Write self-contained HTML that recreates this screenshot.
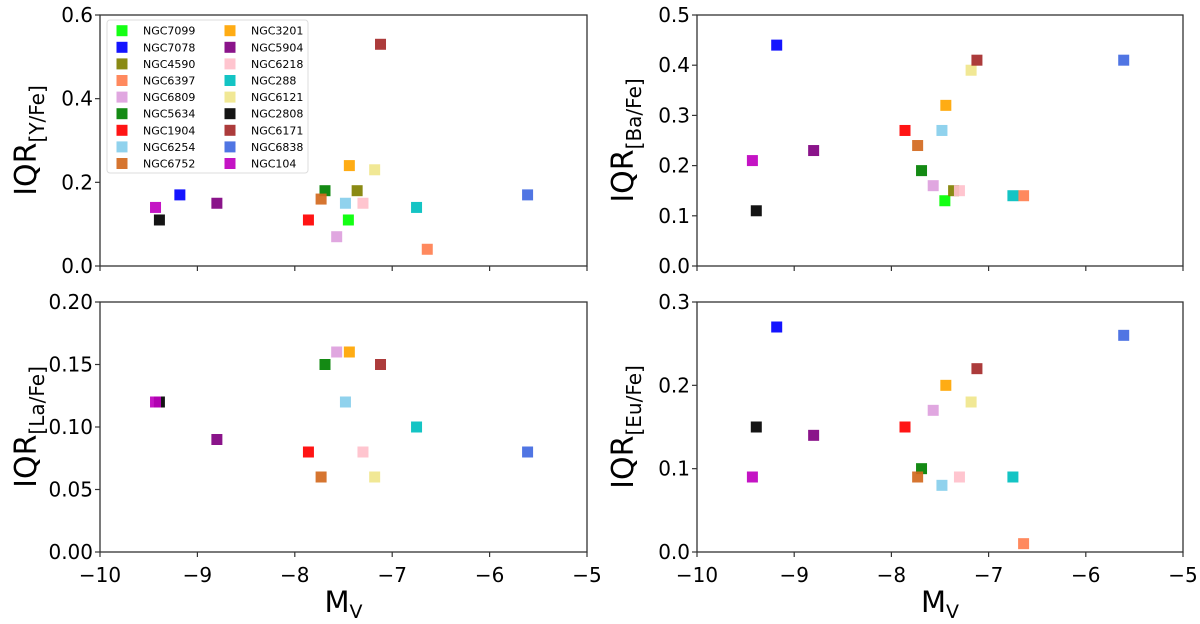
<!DOCTYPE html>
<html><head><meta charset="utf-8"><style>
body{margin:0;background:#fff;width:1200px;height:619px;overflow:hidden}
svg text{font-family:"DejaVu Sans","Liberation Sans",sans-serif;fill:#000}
</style></head><body>
<svg id="fig" width="1200" height="619" xmlns="http://www.w3.org/2000/svg"></svg>
<script>
const clusters=["NGC7099","NGC7078","NGC4590","NGC6397","NGC6809","NGC5634","NGC1904","NGC6254","NGC6752","NGC3201","NGC5904","NGC6218","NGC288","NGC6121","NGC2808","NGC6171","NGC6838","NGC104"];
const colors=["#00ff00","#0000ff","#808000","#ff7f50","#dda0dd","#008000","#ff0000","#87ceeb","#d2691e","#ffa500","#800080","#ffc0cb","#00bfbf","#f0e68c","#000000","#a52a2a","#4169e1","#bf00bf"];
const mv=[-7.45,-9.18,-7.36,-6.64,-7.57,-7.69,-7.86,-7.48,-7.73,-7.44,-8.80,-7.30,-6.75,-7.18,-9.39,-7.12,-5.61,-9.43];
const yFe=[0.11,0.17,0.18,0.04,0.07,0.18,0.11,0.15,0.16,0.24,0.15,0.15,0.14,0.23,0.11,0.53,0.17,0.14];
const baFe=[0.13,0.44,0.15,0.14,0.16,0.19,0.27,0.27,0.24,0.32,0.23,0.15,0.14,0.39,0.11,0.41,0.41,0.21];
const laFe=[null,null,null,null,0.16,0.15,0.08,0.12,0.06,0.16,0.09,0.08,0.10,0.06,0.12,0.15,0.08,0.12];
const euFe=[null,0.27,null,0.01,0.17,0.10,0.15,0.08,0.09,0.20,0.14,0.09,0.09,0.18,0.15,0.22,0.26,0.09];
const xTicks=[-10,-9,-8,-7,-6,-5];
const panels=[
 {name:"y-fe",el:"Y/Fe",vals:yFe,x0:100,x1:587,y0:15,y1:266,ymax:0.6,ticks:[0,0.2,0.4,0.6],dec:1,xl:false,legend:true},
 {name:"ba-fe",el:"Ba/Fe",vals:baFe,x0:697,x1:1183,y0:15,y1:266,ymax:0.5,ticks:[0,0.1,0.2,0.3,0.4,0.5],dec:1,xl:false},
 {name:"la-fe",el:"La/Fe",vals:laFe,x0:100,x1:587,y0:302,y1:552,ymax:0.2,ticks:[0,0.05,0.1,0.15,0.2],dec:2,xl:true},
 {name:"eu-fe",el:"Eu/Fe",vals:euFe,x0:697,x1:1183,y0:302,y1:552,ymax:0.3,ticks:[0,0.1,0.2,0.3],dec:1,xl:true}];
const NS="http://www.w3.org/2000/svg";
const svg=document.getElementById('fig');
function mk(t,a,p){const e=document.createElementNS(NS,t);for(const k in a)e.setAttribute(k,a[k]);(p||svg).appendChild(e);return e;}
panels.forEach(P=>{
 const g=mk('g',{});
 
 
 const sx=v=>P.x0+(v+10)/5*(P.x1-P.x0);
 const sy=v=>P.y1-v/P.ymax*(P.y1-P.y0);
 const box=mk('rect',{x:P.x0,y:P.y0,width:P.x1-P.x0,height:P.y1-P.y0,fill:'none',stroke:'#333','stroke-width':1.3},g);
 
 
 xTicks.forEach(t=>{
  mk('line',{x1:sx(t),x2:sx(t),y1:P.y1,y2:P.y1+5,stroke:'#333','stroke-width':1.2},g);
  if(P.xl){const tx=mk('text',{x:sx(t),y:P.y1+30,'font-size':20,'text-anchor':'middle'},g);tx.textContent=(t<0?'\u2212'+(-t):t);
   
   }
 });
 P.ticks.forEach(t=>{
  mk('line',{x1:P.x0-5,x2:P.x0,y1:sy(t),y2:sy(t),stroke:'#333','stroke-width':1.2},g);
  const tx=mk('text',{x:P.x0-7,y:sy(t)+7,'font-size':20,'text-anchor':'end'},g);tx.textContent=t.toFixed(P.dec);
  
  
 });
 const yl=mk('text',{transform:`translate(${P.x0-64},${(P.y0+P.y1)/2}) rotate(-90)`,'font-size':30,'text-anchor':'middle'},g);
 yl.innerHTML='IQR<tspan font-size="20" dy="8">['+P.el+']</tspan>';
 
 
 if(P.xl){const xl=mk('text',{x:(P.x0+P.x1)/2,y:P.y1+60,'font-size':29,'text-anchor':'middle'},g);
  xl.innerHTML='M<tspan font-size="19" dy="6">V</tspan>';
  
  }
 P.vals.forEach((v,i)=>{
  if(v===null)return;
  const r=mk('rect',{x:sx(mv[i])-5.5,y:sy(v)-5.5,width:11,height:11,fill:colors[i],'fill-opacity':0.92},g);
  
  
 });
 if(P.legend){
  const lg=mk('g',{},g);
  
  
  mk('rect',{x:107,y:20,width:201,height:153,rx:3,fill:'#fff','fill-opacity':0.85,stroke:'#ddd'},lg);
  clusters.forEach((c,i)=>{
   const col=i<9?0:1,row=i%9;
   const cx=col?230:122, cy=30.7+row*16.6;
   const e=mk('g',{},lg);
   
   
   mk('rect',{x:cx-5.5,y:cy-5.5,width:11,height:11,fill:colors[i],'fill-opacity':0.92},e);
   const t=mk('text',{x:cx+21,y:cy+4,'font-size':11},e);t.textContent=c;
  });
 }
});
</script>
</body></html>
